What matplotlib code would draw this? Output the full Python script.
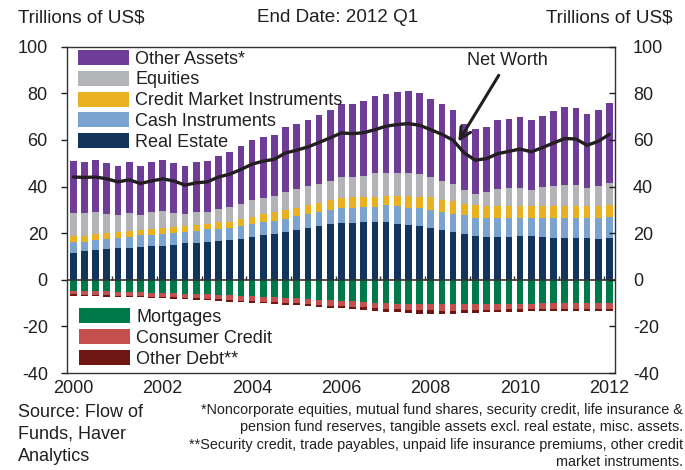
import numpy as np
import matplotlib
matplotlib.use("Agg")
import matplotlib.pyplot as plt
from matplotlib.patches import Patch

plt.rcParams['font.family'] = ['Liberation Sans', 'DejaVu Sans']

# Quarterly data, 2000 Q1 .. 2012 Q1 (trillions of US$)
quarters = [f"{y} Q{q}" for y in range(2000, 2013) for q in range(1, 5)][:49]

real_estate = [11.7, 12.3, 12.7, 13.1, 13.6, 13.7, 14.1, 14.4, 14.7, 15.1, 15.6, 15.9, 16.3,
               16.6, 17.0, 17.6, 18.4, 19.1, 19.7, 20.6, 21.3, 22.3, 23.0, 23.9, 24.4,
               24.4, 24.6, 24.7, 24.6, 24.1, 23.7, 23.0, 22.3, 21.3, 20.6, 19.7, 18.7,
               18.4, 18.4, 18.4, 18.7, 18.7, 18.3, 18.1, 18.0, 18.0, 18.0, 17.7, 18.1]
cash_instruments = [4.3, 4.0, 4.3, 4.3, 4.4, 4.7, 4.9, 5.0, 5.0, 4.9, 4.8, 5.0, 5.4,
                    5.3, 5.3, 5.4, 5.5, 5.9, 5.4, 5.5, 6.0, 6.0, 6.1, 6.0, 6.5,
                    6.6, 6.5, 6.6, 7.4, 7.5, 7.3, 7.9, 7.8, 7.8, 7.8, 8.0, 8.0,
                    7.9, 8.2, 8.2, 7.9, 7.6, 8.0, 8.2, 8.3, 8.3, 8.3, 8.9, 8.9]
credit_market = [2.9, 2.6, 2.6, 2.6, 2.7, 2.6, 2.3, 2.3, 2.6, 2.6, 2.7, 2.8, 2.4,
                 2.7, 2.6, 2.9, 3.1, 3.3, 3.9, 3.9, 3.7, 3.8, 3.8, 4.2, 4.2,
                 4.3, 4.3, 4.3, 4.1, 4.4, 4.9, 4.7, 5.2, 5.0, 5.2, 5.0, 5.4,
                 5.4, 5.1, 5.1, 5.1, 5.4, 5.4, 5.4, 5.4, 5.3, 5.3, 5.1, 5.1]
equities = [9.8, 9.7, 9.3, 8.3, 7.3, 7.6, 6.4, 7.2, 7.0, 6.1, 5.0, 5.3, 5.0,
            5.7, 6.4, 6.8, 7.3, 6.8, 7.0, 7.7, 7.9, 8.0, 8.4, 8.3, 9.0,
            8.8, 9.0, 10.0, 9.9, 10.0, 10.1, 9.7, 8.6, 8.3, 7.4, 5.7, 4.9,
            5.9, 7.2, 7.7, 7.6, 7.0, 8.2, 8.4, 9.0, 9.0, 7.7, 8.4, 9.3]
other_assets = [22.2, 21.8, 22.4, 21.8, 21.0, 21.8, 21.2, 21.8, 22.3, 21.6, 20.8, 21.4, 21.8,
                23.0, 23.4, 24.7, 25.6, 26.2, 26.3, 27.9, 28.0, 28.5, 29.3, 30.6, 31.4,
                31.2, 32.2, 33.1, 33.9, 34.6, 35.1, 34.8, 33.5, 33.2, 31.7, 28.6, 27.7,
                28.1, 29.5, 29.6, 30.7, 29.7, 30.4, 32.3, 33.3, 33.1, 31.8, 32.9, 34.5]

mortgages = [4.7, 4.8, 4.9, 5.0, 5.1, 5.2, 5.3, 5.5, 5.6, 5.8, 5.9, 6.1, 6.3,
             6.5, 6.7, 6.9, 7.1, 7.3, 7.5, 7.8, 8.0, 8.3, 8.5, 8.8, 9.0,
             9.3, 9.5, 9.8, 10.0, 10.2, 10.4, 10.5, 10.6, 10.6, 10.6, 10.5, 10.5,
             10.5, 10.4, 10.3, 10.3, 10.2, 10.1, 10.0, 10.0, 9.9, 9.9, 9.8, 9.8]
consumer_credit = [1.5, 1.55, 1.6, 1.65, 1.65, 1.7, 1.7, 1.75, 1.75, 1.8, 1.8, 1.85, 1.85,
                   1.9, 1.95, 2.0, 2.0, 2.05, 2.05, 2.1, 2.15, 2.2, 2.2, 2.25, 2.3,
                   2.3, 2.35, 2.4, 2.45, 2.5, 2.5, 2.55, 2.55, 2.6, 2.6, 2.6, 2.55,
                   2.5, 2.5, 2.45, 2.45, 2.4, 2.4, 2.45, 2.45, 2.5, 2.5, 2.55, 2.6]
other_debt = [0.6, 0.6, 0.6, 0.6, 0.6, 0.6, 0.6, 0.65, 0.65, 0.65, 0.7, 0.7, 0.7,
              0.7, 0.75, 0.75, 0.8, 0.8, 0.8, 0.85, 0.85, 0.9, 0.9, 0.95, 1.0,
              1.0, 1.05, 1.1, 1.2, 1.3, 1.4, 1.45, 1.45, 1.4, 1.3, 1.2, 1.1,
              1.0, 0.95, 0.95, 0.95, 0.95, 0.95, 0.95, 1.0, 1.0, 1.0, 1.05, 1.05]

net_worth = [44.1, 43.9, 44.1, 43.3, 42.0, 42.9, 41.3, 42.4, 43.3, 42.4, 40.6, 41.6, 42.0,
             44.1, 45.3, 47.3, 49.6, 50.9, 51.7, 54.4, 55.6, 57.0, 58.9, 60.9, 63.0,
             62.7, 63.1, 64.4, 65.9, 66.6, 67.0, 66.3, 64.4, 62.4, 59.9, 54.4, 51.3,
             52.0, 54.1, 55.1, 56.1, 54.9, 56.7, 58.7, 60.6, 60.4, 57.7, 59.4, 62.4]

year_labels = ['2000', '2002', '2004', '2006', '2008', '2010', '2012']
y_ticks = [-40, -20, 0, 20, 40, 60, 80, 100]

asset_series = [("Real Estate", real_estate, '#13355B'),
                ("Cash Instruments", cash_instruments, '#7BA3CF'),
                ("Credit Market Instruments", credit_market, '#E9B11F'),
                ("Equities", equities, '#B3B4B7'),
                ("Other Assets*", other_assets, '#6F3C97')]
debt_series = [("Mortgages", mortgages, '#00794A'),
               ("Consumer Credit", consumer_credit, '#C4504D'),
               ("Other Debt**", other_debt, '#6E1612')]

TXT = '#231F20'
FS = 13

fig = plt.figure(figsize=(6.85, 4.70), dpi=100)
ax = fig.add_axes([67.3 / 685, 97 / 470, 547.7 / 685, 326.3 / 470])

x = np.arange(len(quarters))
w = 0.6
bottom = np.zeros(len(x))
handles_a = {}
for name, vals, col in asset_series:
    v = np.array(vals)
    ax.bar(x, v, w, bottom=bottom, color=col, linewidth=0, zorder=2)
    bottom += v
    handles_a[name] = Patch(facecolor=col, edgecolor='none')
bottom = np.zeros(len(x))
handles_d = {}
for name, vals, col in debt_series:
    v = -np.array(vals)
    ax.bar(x, v, w, bottom=bottom, color=col, linewidth=0, zorder=2)
    bottom += v
    handles_d[name] = Patch(facecolor=col, edgecolor='none')

ax.plot(x, net_worth, color=TXT, lw=2.4, zorder=4, solid_capstyle='round')
ax.axhline(0, color='#333333', lw=1.2, zorder=3)
ax.vlines(np.arange(3.5, len(x), 4), 0, 1.8, color='#333333', lw=1, zorder=3)

ax.set_xlim(-0.54, 48.5)
ax.set_ylim(-40, 100)
ax.set_yticks(y_ticks)
ax.set_yticklabels([str(t) for t in y_ticks])
ax.set_xticks(np.arange(0, len(x), 8))
ax.set_xticklabels(year_labels)
ax.tick_params(axis='x', length=0, pad=5, labelsize=FS, colors=TXT)
ax.tick_params(axis='y', direction='out', length=4, width=1, pad=10, labelsize=FS,
               colors=TXT)
for s in ax.spines.values():
    s.set_color('#333333')
    s.set_linewidth(1)

ax2 = ax.twinx()
ax2.set_ylim(-40, 100)
ax2.set_yticks(y_ticks)
ax2.set_yticklabels([str(t) for t in y_ticks])
ax2.tick_params(axis='y', direction='in', length=4, width=1, pad=13, labelsize=FS,
                colors=TXT)
for s in ax2.spines.values():
    s.set_visible(False)

order_a = ["Other Assets*", "Equities", "Credit Market Instruments", "Cash Instruments", "Real Estate"]
leg1 = ax.legend([handles_a[n] for n in order_a], order_a, loc='upper left',
                 bbox_to_anchor=(0.0195, 0.99), frameon=False, fontsize=FS,
                 handlelength=2.85, handleheight=0.9, handletextpad=0.33,
                 labelspacing=0.17, borderpad=0, borderaxespad=0)
for t in leg1.get_texts():
    t.set_color(TXT)
ax.add_artist(leg1)
order_d = ["Mortgages", "Consumer Credit", "Other Debt**"]
leg2 = ax.legend([handles_d[n] for n in order_d], order_d, loc='upper left',
                 bbox_to_anchor=(0.0213, 0.198), frameon=False, fontsize=FS,
                 handlelength=2.85, handleheight=0.9, handletextpad=0.33,
                 labelspacing=0.17, borderpad=0, borderaxespad=0)
for t in leg2.get_texts():
    t.set_color(TXT)

ax.annotate('Net Worth', xy=(34.47, 59.2), xytext=(38.9, 94.1), ha='center', va='center',
            fontsize=FS, color=TXT, zorder=5,
            arrowprops=dict(arrowstyle='->', lw=2.2, color=TXT, shrinkA=3, shrinkB=0,
                            mutation_scale=20))

HFS = 13.6
fig.text(18 / 685, 1 - 18 / 470, 'Trillions of US$', ha='left', va='center', fontsize=HFS, color=TXT)
fig.text(338 / 685, 1 - 18 / 470, 'End Date: 2012 Q1', ha='center', va='center', fontsize=HFS, color=TXT)
fig.text(673 / 685, 1 - 18 / 470, 'Trillions of US$', ha='right', va='center', fontsize=HFS, color=TXT)

fig.text(18 / 685, 1 - 404 / 470, 'Source: Flow of\nFunds, Haver\nAnalytics', ha='left', va='top',
         fontsize=FS, color=TXT, linespacing=1.38)
foot = ("*Noncorporate equities, mutual fund shares, security credit, life insurance &\n"
        "pension fund reserves, tangible assets excl. real estate, misc. assets.\n"
        "**Security credit, trade payables, unpaid life insurance premiums, other credit\n"
        "market instruments.")
fig.text(683 / 685, 1 - 403 / 470, foot, ha='right', va='top', multialignment='right',
         fontsize=10.4, color=TXT, linespacing=1.3,
         family=['Liberation Sans Narrow', 'Liberation Sans', 'DejaVu Sans'])

fig.savefig('out.png', dpi=100)
